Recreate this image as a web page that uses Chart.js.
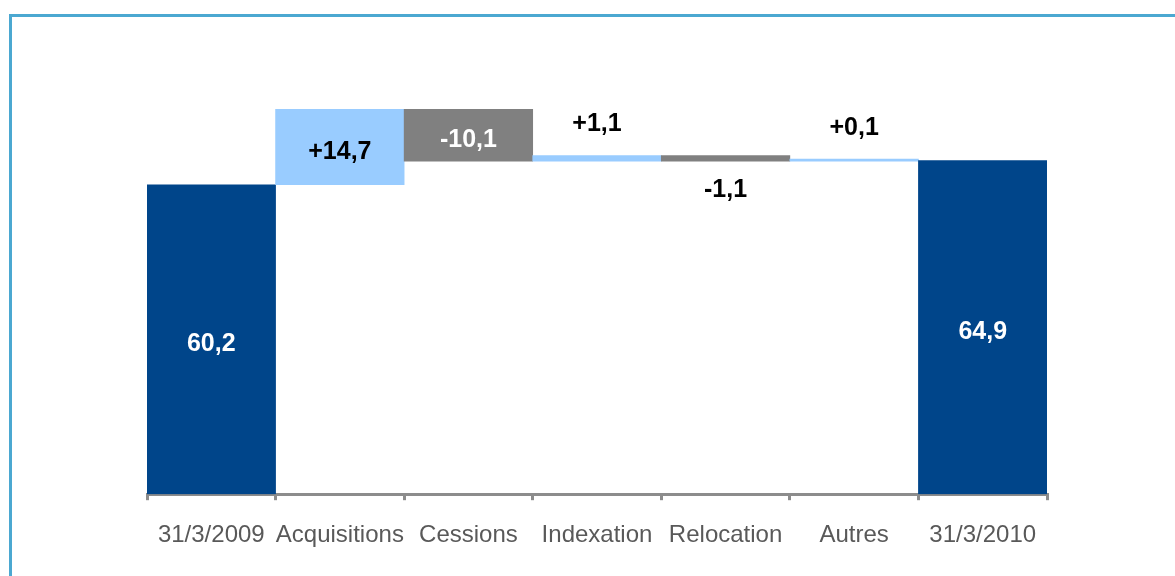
<!DOCTYPE html>
<html>
    <head>
        <title>Waterfall</title>
        <style>
            body { margin: 0; background: #fff; }
            #wrap { position: relative; width: 1175px; height: 576px; }
            #frame { position: absolute; left: 9px; top: 14px; width: 1200px; height: 600px;
                     border-top: 3px solid #4ba8d1; border-left: 3px solid #4ba8d1; pointer-events: none; }
        </style>
    </head>
    <body>
        <script src="https://cdn.jsdelivr.net/npm/chart.js"></script>
        <div id="wrap">
            <canvas id="myChart"></canvas>
            <div id="frame"></div>
        </div>
        <script>
            // categories and values
            const categories = ['31/3/2009', 'Acquisitions', 'Cessions', 'Indexation', 'Relocation', 'Autres', '31/3/2010'];
            const startTotal = 60.2;
            const deltas = [14.7, -10.1, 1.1, -1.1, 0.1];
            const endTotal = 64.9;
            const labelTexts = ['60,2', '+14,7', '-10,1', '+1,1', '-1,1', '+0,1', '64,9'];
            const labelPlace = ['center', 'center', 'center', 'above', 'below', 'above', 'center'];

            const DARK = '#00458a', LIGHT = '#99ccff', GREY = '#808080';

            // floating bars [from, to]
            const bars = [[0, startTotal]];
            const colors = [DARK];
            let run = startTotal;
            deltas.forEach(d => {
                bars.push([run, run + d]);
                colors.push(d >= 0 ? LIGHT : GREY);
                run += d;
            });
            bars.push([0, endTotal]);
            colors.push(DARK);

            const labelColors = colors.map(c => c === LIGHT ? '#000' : '#fff');

            const barLabels = {
                id: 'barLabels',
                afterDatasetsDraw(chart) {
                    const ctx = chart.ctx;
                    const meta = chart.getDatasetMeta(0);
                    ctx.save();
                    ctx.font = 'bold 25px "Liberation Sans", Arial, sans-serif';
                    ctx.textAlign = 'center';
                    ctx.textBaseline = 'middle';
                    meta.data.forEach((bar, i) => {
                        const top = Math.min(bar.y, bar.base);
                        const bottom = Math.max(bar.y, bar.base);
                        let y = (top + bottom) / 2 + 5;
                        let color = labelColors[i];
                        if (labelPlace[i] === 'above') { y = top - 31; color = '#000'; }
                        if (labelPlace[i] === 'below') { y = bottom + 29; color = '#000'; }
                        ctx.fillStyle = color;
                        ctx.fillText(labelTexts[i], bar.x, y);
                    });
                    ctx.restore();
                }
            };

            const ctx = document.getElementById('myChart').getContext('2d');
            const myChart = new Chart(ctx, {
                type: 'bar',
                data: {
                    labels: categories,
                    datasets: [{
                        data: bars,
                        backgroundColor: colors,
                        borderWidth: 0,
                        barPercentage: 1,
                        categoryPercentage: 1,
                        minBarLength: 2,
                    }]
                },
                plugins: [barLabels],
                options: {
                    responsive: true,
                    maintainAspectRatio: false,
                    animation: false,
                    layout: { padding: { left: 147, right: 128, top: 83, bottom: 5 } },
                    plugins: { legend: { display: false }, tooltip: { enabled: false } },
                    scales: {
                        x: {
                            offset: true,
                            border: { display: true, color: '#8c8c8c', width: 3 },
                            grid: { display: true, offset: true, drawOnChartArea: false, drawTicks: true,
                                    tickLength: 6, lineWidth: 3, color: '#8c8c8c' },
                            ticks: {
                                autoSkip: false, maxRotation: 0, minRotation: 0, padding: 21,
                                color: '#595959',
                                font: { family: '"Liberation Sans", Arial, sans-serif', size: 24 },
                            },
                        },
                        y: { display: false, min: 0, max: 80 }
                    }
                }
            });
        </script>
    </body>
</html>
